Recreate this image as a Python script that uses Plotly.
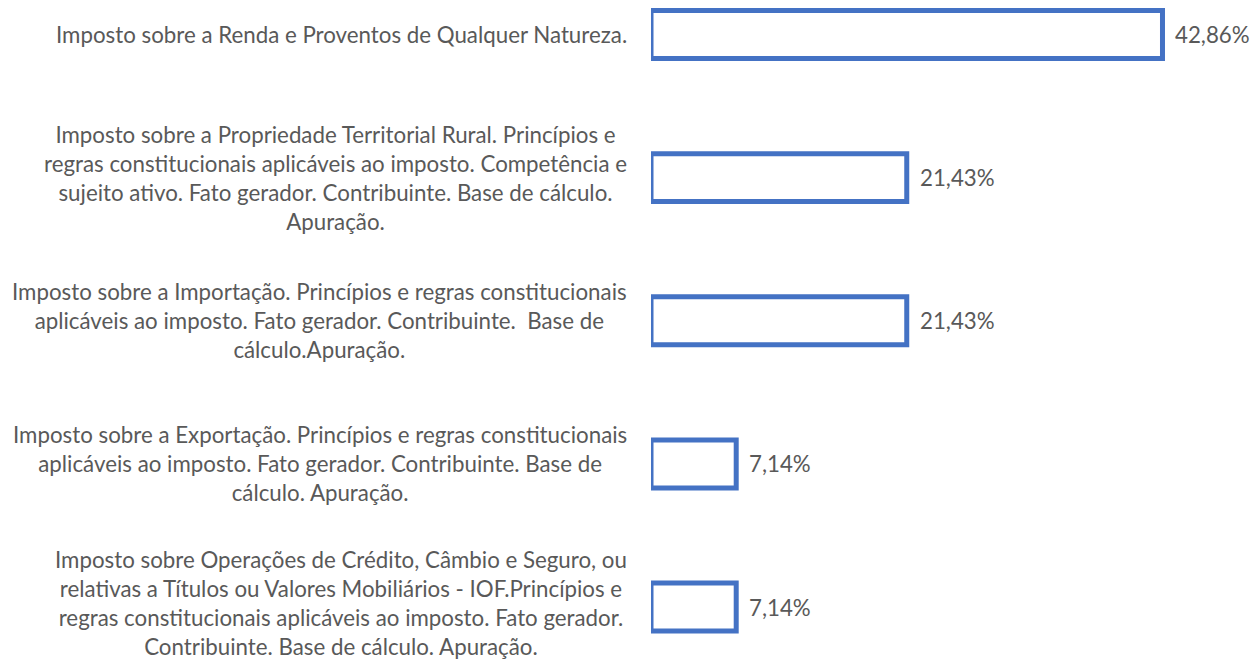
import plotly.graph_objects as go

categories = [
    "Imposto sobre a Renda e Proventos de Qualquer Natureza.",
    "Imposto sobre a Propriedade Territorial Rural. Princípios e<br>regras constitucionais aplicáveis ao imposto. Competência e<br>sujeito ativo. Fato gerador. Contribuinte. Base de cálculo.<br>Apuração.",
    "Imposto sobre a Importação. Princípios e regras constitucionais<br>aplicáveis ao imposto. Fato gerador. Contribuinte.  Base de<br>cálculo.Apuração.",
    "Imposto sobre a Exportação. Princípios e regras constitucionais<br>aplicáveis ao imposto. Fato gerador. Contribuinte. Base de<br>cálculo. Apuração.",
    "Imposto sobre Operações de Crédito, Câmbio e Seguro, ou<br>relativas a Títulos ou Valores Mobiliários - IOF.Princípios e<br>regras constitucionais aplicáveis ao imposto. Fato gerador.<br>Contribuinte. Base de cálculo. Apuração.",
]
values = [42.86, 21.43, 21.43, 7.14, 7.14]
value_labels = ["42,86%", "21,43%", "21,43%", "7,14%", "7,14%"]

FONT = "Lato"
GRAY = "#595959"
BLUE = "#4472C4"

fig = go.Figure()
fig.add_trace(go.Bar(
    y=list(range(len(categories))),
    x=values,
    orientation="h",
    width=0.335,
    marker=dict(color="white", line=dict(color=BLUE, width=5)),
    hoverinfo="skip",
    cliponaxis=False,
))

annotations = []
for i, (cat, v, lab) in enumerate(zip(categories, values, value_labels)):
    annotations.append(dict(
        xref="paper", yref="y", x=0, y=i, xanchor="right", yanchor="middle",
        xshift=-22, yshift=(4 if i == len(categories) - 1 else 0),
        text=cat, align="center", showarrow=False,
        font=dict(family=FONT, size=22.3, color=GRAY),
    ))
    annotations.append(dict(
        xref="x", yref="y", x=v, y=i, xanchor="left", yanchor="middle",
        xshift=11, text=lab, showarrow=False,
        font=dict(family=FONT, size=22.3, color=GRAY),
    ))

fig.update_layout(
    width=1252, height=661,
    margin=dict(l=651, r=0, t=0, b=0),
    paper_bgcolor="white", plot_bgcolor="white",
    showlegend=False,
    xaxis=dict(range=[0, 50.36], visible=False),
    yaxis=dict(range=[4.377, -0.241], visible=False),
    annotations=annotations,
)

fig.write_html(
    "out.html",
    config={"displayModeBar": False},
    post_script="document.body.style.margin='0';document.body.style.overflow='hidden';",
)
